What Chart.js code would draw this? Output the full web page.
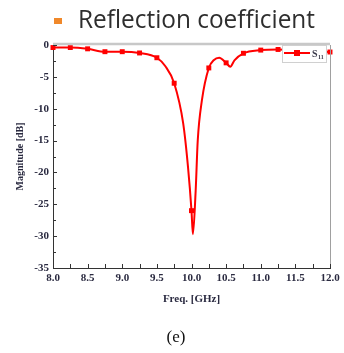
<!DOCTYPE html>
<html>
<head>
<meta charset="utf-8">
<script src="https://cdn.jsdelivr.net/npm/chart.js@4"></script>
<style>
body { margin: 0; background: #fff; }
#wrap { position: relative; width: 344px; height: 353px; overflow: hidden; }
#chart { position: absolute; left: 0; top: 0; }
#title { position: absolute; left: 78px; top: 1px; font: 25px "Open Sans"; line-height: 34px; color: #2e2e2e; white-space: nowrap; transform-origin: 0 0; }
#bullet { position: absolute; left: 54px; top: 18px; width: 8px; height: 6px; background: #f0882a; }
#cap { position: absolute; left: 4px; width: 344px; top: 327px; text-align: center; font: 17px "Liberation Serif"; color: #111; }
</style>
</head>
<body>
<div id="wrap">
    <canvas id="chart" width="344" height="353"></canvas>
    <div id="bullet"></div>
    <div id="title">Reflection coefficient</div>
    <div id="cap">(e)</div>
</div>
<script>
// frequency in GHz and S11 in dB
const freq = [8.0, 8.25, 8.5, 8.75, 9.0, 9.25, 9.5, 9.62, 9.75, 9.88, 9.95, 10.0, 10.02, 10.06, 10.09, 10.15, 10.25, 10.32, 10.4, 10.5, 10.56, 10.62, 10.75, 11.0, 11.25, 11.5, 11.75, 12.0];
const s11 = [-0.4, -0.4, -0.6, -1.05, -1.05, -1.25, -2.0, -3.3, -6.0, -12.3, -19.2, -26.0, -29.7, -22.9, -15.0, -8.7, -3.6, -2.4, -2.0, -2.8, -3.4, -2.4, -1.3, -0.8, -0.7, -0.8, -1.0, -1.1];
const xTicks = [8.0, 8.5, 9.0, 9.5, 10.0, 10.5, 11.0, 11.5, 12.0];
const yTicks = [0, -5, -10, -15, -20, -25, -30, -35];

// stretch the heading to the width it has in the picture
var t = document.getElementById("title");
t.style.transform = "scaleX(" + (237 / t.getBoundingClientRect().width) + ")";

var pts = [];
for (i = 0; i < freq.length; i++) {
    pts.push({ x: freq[i], y: s11[i] });
}

function onQuarter(v) {
    return Math.abs(v * 4 - Math.round(v * 4)) < 1e-6;
}

var tickFont = { family: "Liberation Serif", size: 11, weight: "bold" };

// inward ticks, grey top/right frame and the small legend box
var decor = {
    id: "decor",
    afterDatasetsDraw: function (chart) {
        var c = chart.ctx, a = chart.chartArea;
        var xs = chart.scales.x, ys = chart.scales.y;
        c.save();
        c.strokeStyle = "#c8c8c8";
        c.lineWidth = 2.5;
        c.beginPath();
        c.moveTo(a.left, a.top - 1);
        c.lineTo(a.right, a.top - 1);
        c.stroke();
        c.strokeStyle = "#a0a0a0";
        c.lineWidth = 1;
        c.beginPath();
        c.moveTo(a.right + 0.5, a.top);
        c.lineTo(a.right + 0.5, a.bottom);
        c.stroke();

        c.strokeStyle = "#333";
        c.beginPath();
        for (v = 8; v <= 12.001; v += 0.25) {
            var px = Math.round(xs.getPixelForValue(v)) + 0.5;
            var len = onQuarter(v * 2) ? 4 : 3;
            c.moveTo(px, a.bottom);
            c.lineTo(px, a.bottom - len);
        }
        for (v = 0; v >= -35; v -= 2.5) {
            var py = Math.round(ys.getPixelForValue(v)) + 0.5;
            var len2 = (v % 5 === 0) ? 4 : 3;
            c.moveTo(a.left, py);
            c.lineTo(a.left + len2, py);
        }
        c.stroke();

        // legend
        var bx = 282, by = 45, bw = 45, bh = 18;
        c.fillStyle = "#fff";
        c.fillRect(bx, by, bw, bh);
        c.strokeStyle = "#d0d0d0";
        c.strokeRect(bx + 0.5, by + 0.5, bw - 1, bh - 1);
        c.strokeStyle = "#ff0000";
        c.lineWidth = 2;
        c.beginPath();
        c.moveTo(bx + 2, by + 8);
        c.lineTo(bx + 28, by + 8);
        c.stroke();
        c.fillStyle = "#ff0000";
        c.fillRect(bx + 12, by + 5, 6, 6);
        c.fillStyle = "#3a3a4a";
        c.font = "bold 10px 'Liberation Serif'";
        c.textBaseline = "alphabetic";
        c.fillText("S", bx + 30, by + 12);
        c.font = "bold 6px 'Liberation Serif'";
        c.fillText("11", bx + 36, by + 14);
        c.restore();
    }
};

var ctx = document.getElementById("chart").getContext("2d");
var grafico = new Chart(ctx, {
    type: "line",
    data: {
        datasets: [
            {
                label: "S11",
                data: pts,
                borderColor: "#ff0000",
                backgroundColor: "#ff0000",
                borderWidth: 2,
                cubicInterpolationMode: "monotone",
                pointStyle: "rect",
                pointRadius: function (c) {
                    return c.raw && onQuarter(c.raw.x) ? 3.5 : 0;
                },
                pointBorderWidth: 0,
                clip: false,
            },
        ],
    },
    options: {
        responsive: false,
        animation: false,
        events: [],
        layout: { padding: { left: 10, right: 14, top: 45, bottom: 43 } },
        plugins: {
            legend: { display: false },
            tooltip: { enabled: false },
        },
        scales: {
            x: {
                type: "linear",
                min: 8,
                max: 12,
                afterBuildTicks: function (s) {
                    s.ticks = xTicks.map(function (v) { return { value: v }; });
                },
                afterFit: function (s) { s.height = 42; },
                ticks: {
                    padding: 4,
                    color: "#2a2a40",
                    font: tickFont,
                    maxRotation: 0,
                    callback: function (v) { return v.toFixed(1); },
                },
                grid: { drawOnChartArea: false, drawTicks: false },
                border: { display: true, color: "#333", width: 1 },
                title: {
                    display: true,
                    text: "Freq. [GHz]",
                    color: "#2a2a40",
                    font: { family: "Liberation Serif", size: 11, weight: "bold" },
                },
            },
            y: {
                type: "linear",
                min: -35,
                max: 0,
                afterBuildTicks: function (s) {
                    s.ticks = yTicks.map(function (v) { return { value: v }; });
                },
                afterFit: function (s) { s.width = 43; },
                ticks: {
                    padding: 4,
                    color: "#2a2a40",
                    font: tickFont,
                },
                grid: { drawOnChartArea: false, drawTicks: false },
                border: { display: true, color: "#333", width: 1 },
                title: {
                    display: true,
                    text: "Magnitude [dB]",
                    color: "#2a2a40",
                    font: { family: "Liberation Serif", size: 10, weight: "bold" },
                },
            },
        },
    },
    plugins: [decor],
});
</script>
</body>
</html>
